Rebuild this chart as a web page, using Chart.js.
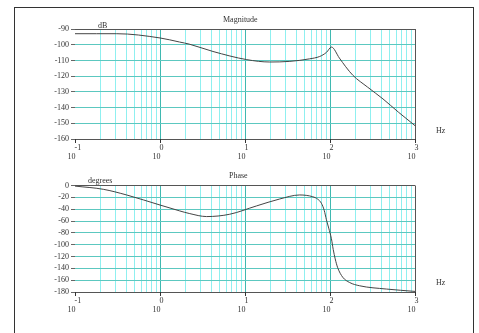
<!DOCTYPE html>
<html>
<head>
<meta charset="utf-8">
<script src="https://cdn.jsdelivr.net/npm/chart.js@4"></script>
<style>
body{margin:0;background:#fff;width:479px;height:333px;overflow:hidden;position:relative;font-family:"Liberation Serif",serif;}
.frame{position:absolute;left:14px;top:7px;width:458px;height:340px;border:1px solid #333;}
canvas{position:absolute;left:0;}
.lbl{position:absolute;font-size:8px;color:#333;white-space:nowrap;line-height:8px;}
</style>
</head>
<body>
<div class="frame"></div>
<canvas id="mag" width="479" height="165" style="top:0"></canvas>
<canvas id="pha" width="479" height="173" style="top:160px"></canvas>
<div class="lbl" style="left:223px;top:16px">Magnitude</div>
<div class="lbl" style="left:98px;top:22px">dB</div>
<div class="lbl" style="left:436px;top:127px">Hz</div>
<div class="lbl" style="left:229px;top:172px">Phase</div>
<div class="lbl" style="left:88px;top:177px">degrees</div>
<div class="lbl" style="left:436px;top:279px">Hz</div>
<script>
// frequency axis (Hz)
const magFreq=[0.1,0.18,0.31,1.0,1.7,2.2,4.2,10.5,19.6,33.7,57.5,75.5,90.8,104,129,153,186,277,420,641,1000];
const magDb=[-93,-93,-93,-95.7,-98.3,-99.6,-104.3,-109.5,-111,-110.6,-109,-107.5,-104.9,-101.5,-108.5,-114,-119.5,-127,-134.5,-143,-151.5];
const phaFreq=[0.1,0.215,0.405,1.0,1.71,2.24,3.53,6.6,13.6,25.6,44,62.7,71.6,79.2,85.5,90.8,96.6,103.9,109.1,115.1,123.2,141.1,170.4,223.4,460,1000];
const phaDeg=[-1,-6.4,-16,-33,-43,-47.5,-52.5,-48.6,-34.6,-22.8,-16,-19,-23,-30,-42,-58,-72,-90,-108,-124,-139,-155,-164,-169.5,-175,-179];
const decadeExp=[-1,0,1,2,3];
const magTicks=[-90,-100,-110,-120,-130,-140,-150,-160];
const phaTicks=[0,-20,-40,-60,-80,-100,-120,-140,-160,-180];

const FONT='"Liberation Serif", serif';

function logTicks(){
  let t=[];
  for(let n=-1;n<3;n++) for(let m=1;m<10;m++) t.push({value:m*Math.pow(10,n)});
  t.push({value:1000});
  return t;
}

const expLabels={
  id:'expLabels',
  afterDraw(chart){
    const ctx=chart.ctx, xs=chart.scales.x, b=chart.chartArea.bottom;
    ctx.save();
    ctx.fillStyle='#333';ctx.strokeStyle='#333';ctx.lineWidth=1;
    ctx.font='8px '+FONT;ctx.textBaseline='middle';
    decadeExp.forEach(e=>{
      const x=Math.round(xs.getPixelForValue(Math.pow(10,e)))+0.5;
      ctx.beginPath();ctx.moveTo(x,b);ctx.lineTo(x,b+4);ctx.stroke();
      ctx.textAlign='left';ctx.fillText(String(e),x-1,b+9);
      ctx.textAlign='right';ctx.fillText('10',x,b+18);
    });
    ctx.restore();
  }
};

function makeChart(id,freq,vals,ticks,padTop,padBottom){
  const mn=Math.min(...ticks),mx=Math.max(...ticks);
  return new Chart(document.getElementById(id),{
    type:'line',
    data:{datasets:[{data:freq.map((f,i)=>({x:f,y:vals[i]})),borderColor:'#444',borderWidth:1,pointRadius:0,cubicInterpolationMode:'monotone',fill:false}]},
    options:{
      responsive:false,animation:false,
      layout:{padding:{left:0,right:64,top:padTop,bottom:padBottom}},
      plugins:{legend:{display:false},tooltip:{enabled:false},title:{display:false}},
      scales:{
        x:{type:'logarithmic',min:0.1,max:1000,
          afterBuildTicks:s=>{s.ticks=logTicks();},
          afterFit:s=>{s.height=0;},
          ticks:{display:false},
          border:{display:true,color:'#555',width:1},
          grid:{drawTicks:false,lineWidth:1,
            color:c=>{const v=c.tick.value;if(v>=1000)return '#555';if(v<=0.1)return 'rgba(0,0,0,0)';const l=Math.log10(v);return Math.abs(l-Math.round(l))<1e-6?'#3fb8b0':'#8ff0f0';}}
        },
        y:{min:mn,max:mx,
          afterBuildTicks:s=>{s.ticks=ticks.map(v=>({value:v}));},
          afterFit:s=>{s.width=75;},
          border:{display:false},
          ticks:{color:'#333',font:{family:FONT,size:8},padding:2,autoSkip:false,callback:v=>String(v)},
          grid:{drawTicks:true,tickLength:4,tickColor:'#666',
            color:c=>{const v=c.tick.value;if(v===mx||v===mn)return '#555';return '#5cc8c0';}}
        }
      }
    },
    plugins:[expLabels]
  });
}

makeChart('mag',magFreq,magDb,magTicks,29,26);
makeChart('pha',phaFreq,phaDeg,phaTicks,25.5,41);
</script>
</body>
</html>
